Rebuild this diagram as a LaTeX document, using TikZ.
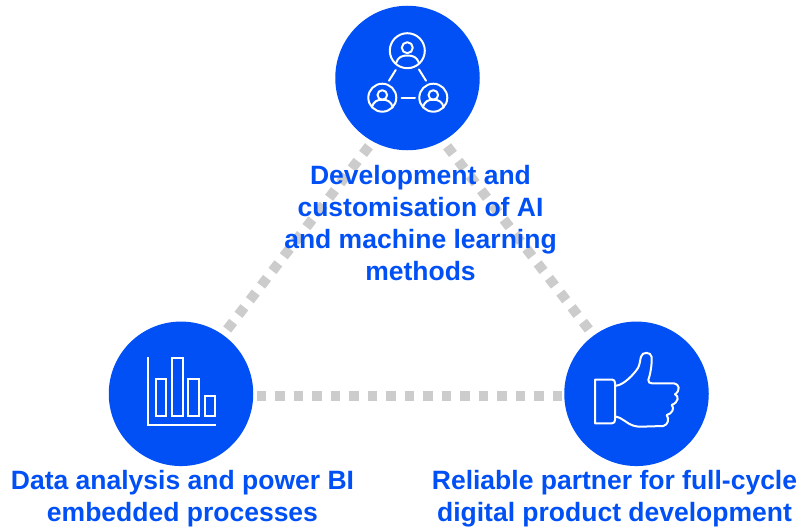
\documentclass[tikz,border=0pt]{standalone}
\usepackage{fontspec}
\setmainfont{Liberation Sans}
\definecolor{brandblue}{HTML}{0050F5}
\definecolor{dotgrey}{HTML}{CCCCCC}
\tikzset{
  hub/.style={circle,fill=brandblue,draw=none,minimum size=144.5pt,inner sep=0pt},
  link/.style={draw=dotgrey,line width=10pt,dash pattern=on 9.6pt off 8.9pt},
  icon/.style={draw=white,line width=2pt,line join=round,line cap=round},
  lab/.style={text=brandblue,font=\bfseries\fontsize{26.5}{32}\selectfont,align=center,inner sep=0pt,anchor=base}
}
\newcommand{\person}[2]{%
  \draw[icon] (#1,#2) circle (14);
  \draw[icon] (#1,#2-2.7) circle (4.8);
  \draw[icon] (#1-10.5,#2+9.5) .. controls (#1-8.5,#2+3.5) and (#1-5,#2+2) .. (#1,#2+2) .. controls (#1+5,#2+2) and (#1+8.5,#2+3.5) .. (#1+10.5,#2+9.5);
}
\begin{document}
\begin{tikzpicture}[x=1pt,y=-1pt]
\useasboundingbox (0,0) rectangle (803,527);
\coordinate (ta) at (368.9,146.3);
\coordinate (tb) at (226,331);
\coordinate (ua) at (447.1,146.3);
\coordinate (ub) at (590,331);
\coordinate (ha) at (256.5,395.5);
\coordinate (hb) at (565,395.5);
\draw[link] (ta) -- (tb);
\draw[link] (ua) -- (ub);
\draw[link] (ha) -- (hb);
\node[hub] (top) at (407.5,78) {};
\node[hub] (left) at (181,393.8) {};
\node[hub] (right) at (636.5,393.8) {};
% network icon
\draw[icon] (407.3,50.7) circle (17.5);
\draw[icon] (407.3,47.7) circle (5.5);
\draw[icon] (396,63) .. controls (398,57) and (402,55.5) .. (407.3,55.5) .. controls (413,55.5) and (417,57) .. (419,63);
\person{382.3}{97.7}
\person{433.3}{97.7}
\draw[icon] (395.7,70) -- (389,80.7);
\draw[icon] (419,69.5) -- (426,80.7);
\draw[icon] (401.7,98.3) -- (415,98.3);
% bar chart icon
\draw[icon,line cap=butt,line join=miter] (148,357) -- (148,424.5) -- (216,424.5);
\draw[icon,line join=miter] (156,379) rectangle (166,416);
\draw[icon,line join=miter] (172,358) rectangle (182.5,416);
\draw[icon,line join=miter] (188,379) rectangle (198.5,416);
\draw[icon,line join=miter] (204.5,396) rectangle (215,416);
% thumb icon
\draw[icon] (595,379.5) -- (612,379.5) .. controls (614,379.5) and (615,381) .. (615,383) -- (615,420) .. controls (615,422) and (614,423.3) .. (612,423.3) -- (595,423.3) -- cycle;
\draw[icon] (616,385.7) .. controls (624,385) and (634,374) .. (638,368) .. controls (640,364) and (640,360) .. (641,356.7) .. controls (642,351.5) and (651,351.5) .. (651.7,357) .. controls (652,366) and (650,375) .. (648.3,380) .. controls (648,382.5) and (650,383.3) .. (652,383.3) -- (674,383.3) .. controls (679,384) and (681,390) .. (675,394.3) .. controls (679,396) and (679,402) .. (671.7,405) .. controls (675,408) and (672,414) .. (666.7,415) .. controls (669.5,419) and (668,425) .. (663.3,426) -- (640,426.7) .. controls (630,426.5) and (626,421) .. (620,418) .. controls (618,417) and (616,416.7) .. (616,416.7);
% labels
\node[lab] (t1) at (420.5,184) {Development and};
\node[lab] (t2) at (420.5,216) {customisation of AI};
\node[lab] (t3) at (420.5,248) {and machine learning};
\node[lab] (t4) at (420.5,280) {methods};
\node[lab] (l1) at (182.5,489) {Data analysis and power BI};
\node[lab] (l2) at (182.5,521) {embedded processes};
\node[lab] (r1) at (614.5,489) {Reliable partner for full-cycle};
\node[lab] (r2) at (614.5,521) {digital product development};
\end{tikzpicture}
\end{document}
